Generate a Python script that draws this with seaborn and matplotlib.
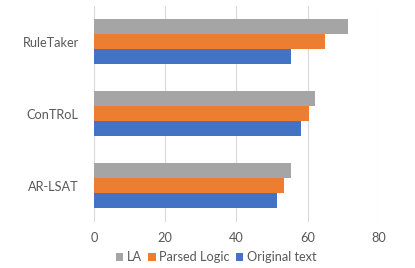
import matplotlib
matplotlib.use("Agg")
import matplotlib.pyplot as plt
import seaborn as sns
import pandas as pd

# values
datasets = ["RuleTaker", "ConTRoL", "AR-LSAT"]
methods = ["LA", "Parsed Logic", "Original text"]
la = [71.4, 62.0, 55.4]
parsed_logic = [64.8, 60.3, 53.3]
original_text = [55.4, 58.0, 51.4]
x_ticks = [0, 20, 40, 60, 80]

colors = {"LA": "#A5A5A5", "Parsed Logic": "#ED7D31", "Original text": "#4472C4"}

rows = []
for m, vals in zip(methods, [la, parsed_logic, original_text]):
    for d, v in zip(datasets, vals):
        rows.append({"dataset": d, "method": m, "score": v})
df = pd.DataFrame(rows)

sns.set_theme(style="white")
plt.rcParams["font.family"] = ["Lato", "DejaVu Sans"]

fig = plt.figure(figsize=(4.15, 2.68), dpi=100)
ax = fig.add_axes([0.2265, 0.1716, 0.6867, 0.807])

sns.barplot(data=df, y="dataset", x="score", hue="method", order=datasets,
            hue_order=methods, palette=colors, orient="h", width=0.625,
            saturation=1, edgecolor="none", errorbar=None, ax=ax)

ax.set_xlim(0, 80)
ax.set_xticks(x_ticks)
ax.grid(axis="x", color="#D9D9D9", linewidth=0.8)
ax.set_axisbelow(True)
for s in ax.spines.values():
    s.set_visible(False)
ax.set_xlabel("")
ax.set_ylabel("")
ax.tick_params(axis="both", length=0, labelsize=9.2, colors="#595959")
ax.tick_params(axis="y", pad=11)
ax.tick_params(axis="x", pad=7)

ax.get_legend().remove()
handles, labels = ax.get_legend_handles_labels()
fig.legend(handles, labels, loc="lower center", bbox_to_anchor=(0.52, -0.025), ncol=3,
           frameon=False, fontsize=9.2, handlelength=0.6, handleheight=0.6,
           handletextpad=0.25, columnspacing=0.5, labelcolor="#595959")

fig.savefig("out.png", dpi=100)
